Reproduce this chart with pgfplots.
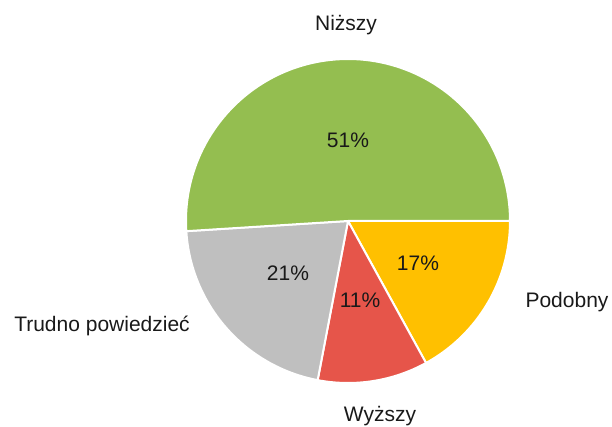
\documentclass[border=0pt]{standalone}
\usepackage{pgfplots}
\pgfplotsset{compat=1.18}
\usepackage{fontspec}
\setmainfont{Liberation Sans}
\definecolor{cgreen}{HTML}{94BE50}
\definecolor{cyellow}{HTML}{FFC000}
\definecolor{cred}{HTML}{E6554A}
\definecolor{cgrey}{HTML}{BFBFBF}
% shares in percent (clockwise from 3 o'clock)
\def\vPod{17}\def\vWyz{11}\def\vTru{21}\def\vNiz{51}
\begin{document}
\begin{tikzpicture}
\begin{axis}[x=1pt,y=1pt,xmin=0,xmax=612,ymin=0,ymax=427,hide axis,clip=false,
  scale only axis]
\path[use as bounding box] (axis cs:0,0) rectangle (axis cs:612,427);
\pgfmathsetmacro\aA{0}
\pgfmathsetmacro\aB{\aA-3.6*\vPod}
\pgfmathsetmacro\aC{\aB-3.6*\vWyz}
\pgfmathsetmacro\aD{\aC-3.6*\vTru}
\pgfmathsetmacro\aE{\aD-3.6*\vNiz}
\def\R{162pt}
\fill[cyellow,draw=white,line width=2pt] (axis cs:348,206) -- ++(\aA:\R) arc[start angle=\aA,end angle=\aB,radius=\R] -- cycle;
\fill[cred,draw=white,line width=2pt] (axis cs:348,206) -- ++(\aB:\R) arc[start angle=\aB,end angle=\aC,radius=\R] -- cycle;
\fill[cgrey,draw=white,line width=2pt] (axis cs:348,206) -- ++(\aC:\R) arc[start angle=\aC,end angle=\aD,radius=\R] -- cycle;
\fill[cgreen,draw=white,line width=2pt] (axis cs:348,206) -- ++(\aD:\R) arc[start angle=\aD,end angle=\aE,radius=\R] -- cycle;
\begin{scope}[every node/.style={font=\fontsize{21}{24}\selectfont,text=black!90}]
\node at (axis cs:348,287) {51\%};
\node at (axis cs:418,164) {17\%};
\node at (axis cs:360,127) {11\%};
\node at (axis cs:288,154) {21\%};
\node at (axis cs:346,402) {Niższy};
\node at (axis cs:567,125) {Podobny};
\node at (axis cs:102,101) {Trudno powiedzieć};
\node at (axis cs:380,11) {Wyższy};
\end{scope}
\end{axis}
\end{tikzpicture}
\end{document}
